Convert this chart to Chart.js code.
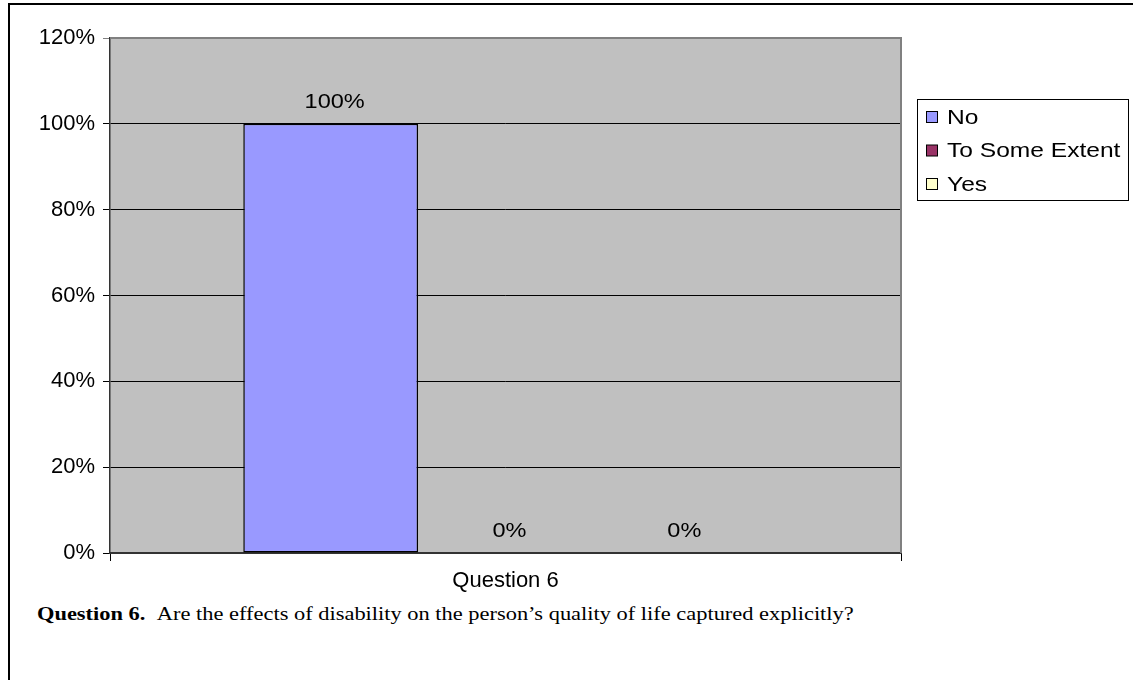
<!DOCTYPE html>
<html>
<head>
<meta charset="utf-8">
<script src="https://cdn.jsdelivr.net/npm/chart.js@4/dist/chart.umd.min.js"></script>
<style>
  html, body { margin: 0; padding: 0; background: #fff; }
  #frame {
    position: absolute; left: 8px; top: 3px; width: 1125px; height: 677px;
    border-top: 2px solid #000; border-left: 2px solid #000; box-sizing: border-box;
  }
  #chart { position: absolute; left: 0; top: 0; }
  #caption {
    position: absolute; left: 37px; top: 603px; white-space: nowrap;
    font-family: "Liberation Serif", "Times New Roman", serif; font-size: 19px; color: #000;
    transform: scaleX(1.18); transform-origin: left center;
  }
  #caption b { margin-right: 6px; }
</style>
</head>
<body>
<div id="frame"></div>
<canvas id="chart" width="1133" height="600"></canvas>
<div id="caption"><b>Question 6.</b> Are the effects of disability on the person’s quality of life captured explicitly?</div>
<script>
// Survey answers for question 6 (share of responses, in percent)
const categories = ['Question 6'];
const seriesNames = ['No', 'To Some Extent', 'Yes'];
const noValues = [100];
const someExtentValues = [0];
const yesValues = [0];
const yTicks = [0, 20, 40, 60, 80, 100, 120];

const seriesColors = ['#9999FF', '#993366', '#FFFFCC'];
const FONT = '"Liberation Sans", Arial, sans-serif';

// Text in this chart is set slightly wide
function wideText(ctx, text, x, y, stretch) {
  ctx.save();
  ctx.translate(x, y);
  ctx.scale(stretch, 1);
  ctx.fillText(text, 0, 0);
  ctx.restore();
}

// Grey plot background with a darker frame on top/right
const plotBackground = {
  id: 'plotBackground',
  beforeDraw(chart) {
    const { ctx, chartArea: a } = chart;
    ctx.save();
    ctx.fillStyle = '#C0C0C0';
    ctx.fillRect(a.left, a.top, a.right - a.left, a.bottom - a.top);
    ctx.restore();
  },
  afterDatasetsDraw(chart) {
    const { ctx, chartArea: a } = chart;
    ctx.save();
    ctx.strokeStyle = '#808080';
    ctx.lineWidth = 2;
    ctx.beginPath();
    ctx.moveTo(a.left, a.top);
    ctx.lineTo(a.right, a.top);
    ctx.lineTo(a.right, a.bottom);
    ctx.stroke();
    ctx.restore();
  }
};

// Value labels above each bar
const valueLabels = {
  id: 'valueLabels',
  afterDatasetsDraw(chart) {
    const { ctx } = chart;
    ctx.save();
    ctx.font = '21px ' + FONT;
    ctx.fillStyle = '#000';
    ctx.textAlign = 'center';
    ctx.textBaseline = 'middle';
    chart.data.datasets.forEach((ds, i) => {
      chart.getDatasetMeta(i).data.forEach((bar, j) => {
        wideText(ctx, ds.data[j] + '%', bar.x + 4, bar.y - 22, 1.12);
      });
    });
    ctx.restore();
  }
};

// Boxed legend to the right of the plot
const boxLegend = {
  id: 'boxLegend',
  afterDraw(chart) {
    const { ctx } = chart;
    const x0 = 917, y0 = 99, w = 211, h = 101, rowGap = 33.5, firstRow = 117;
    ctx.save();
    ctx.fillStyle = '#fff';
    ctx.fillRect(x0, y0, w, h);
    ctx.strokeStyle = '#000';
    ctx.lineWidth = 1;
    ctx.strokeRect(x0 + 0.5, y0 + 0.5, w, h);
    ctx.font = '21px ' + FONT;
    ctx.textBaseline = 'middle';
    chart.data.datasets.forEach((ds, i) => {
      const cy = firstRow + i * rowGap;
      ctx.fillStyle = ds.backgroundColor;
      ctx.fillRect(926.5, cy - 5.5, 11, 11);
      ctx.strokeStyle = '#000';
      ctx.strokeRect(926.5, cy - 5.5, 11, 11);
      ctx.fillStyle = '#000';
      wideText(ctx, ds.label, 947, cy + 1, 1.17);
    });
    ctx.restore();
  }
};

const seriesValues = [noValues, someExtentValues, yesValues];

new Chart(document.getElementById('chart'), {
  type: 'bar',
  data: {
    labels: categories,
    datasets: seriesNames.map((name, i) => ({
      label: name,
      data: seriesValues[i],
      backgroundColor: seriesColors[i],
      borderColor: '#000',
      borderWidth: 1.5,
      borderSkipped: false,
      categoryPercentage: 0.663,
      barPercentage: 1.0
    }))
  },
  options: {
    responsive: false,
    animation: false,
    layout: { padding: { left: 0, top: 38, right: 232, bottom: 0 } },
    plugins: { legend: { display: false }, tooltip: { enabled: false } },
    scales: {
      x: {
        offset: true,
        afterFit(scale) { scale.height = 47; },
        grid: { drawOnChartArea: false, drawTicks: true, tickLength: 8, color: '#000', offset: true },
        border: { display: true, color: '#333', width: 2 },
        ticks: { color: '#000', font: { family: FONT, size: 22 }, padding: 7 }
      },
      y: {
        min: 0,
        max: 120,
        afterFit(scale) { scale.width = 110; },
        afterBuildTicks(scale) { scale.ticks = yTicks.map(v => ({ value: v })); },
        grid: {
          color: ctx => (ctx.tick && ctx.tick.value === 120 ? '#808080' : '#000'),
          lineWidth: 1,
          tickLength: 7,
          drawTicks: true
        },
        border: { display: true, color: '#333', width: 1.5 },
        ticks: {
          color: '#000',
          font: { family: FONT, size: 22 },
          padding: 8,
          callback: v => v + '%'
        }
      }
    }
  },
  plugins: [plotBackground, valueLabels, boxLegend]
});
</script>
</body>
</html>
